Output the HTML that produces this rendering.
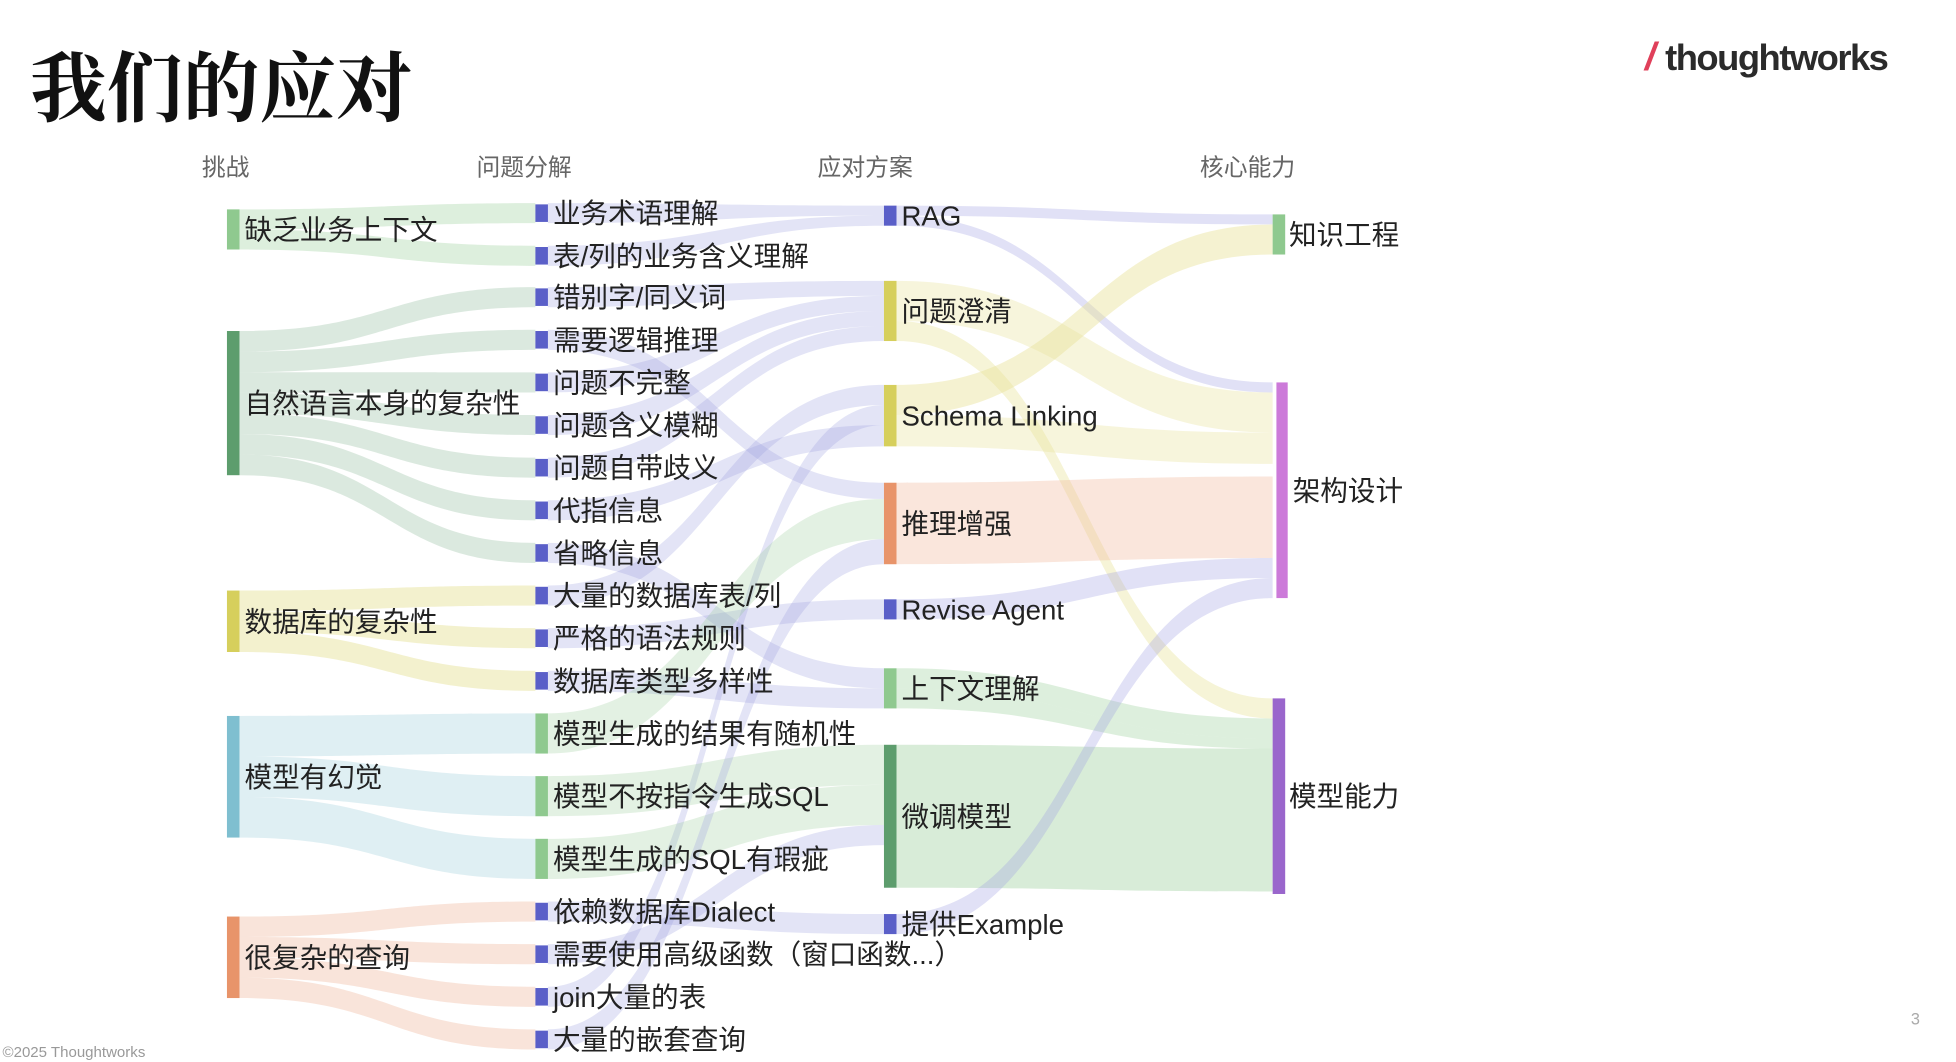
<!DOCTYPE html>
<html><head><meta charset="utf-8">
<style>
html,body{margin:0;padding:0;background:#fff;}
svg{display:block;}
text{font-family:"Liberation Sans","Noto Sans CJK SC",sans-serif;}
</style></head>
<body>
<svg id="s" width="1956" height="1062" viewBox="0 0 1560 847" xmlns="http://www.w3.org/2000/svg">
<rect width="1560" height="847" fill="#fff"/>
<g id="links"></g>
<g id="nodes"></g>
<text x="24" y="92" font-size="61" font-weight="bold" fill="#111" style="font-family:'Noto Serif CJK SC','Noto Sans CJK SC',serif">我们的应对</text>
<text x="1312" y="56" font-size="31" font-weight="bold" fill="#e0405a" font-style="italic">/</text>
<text x="1328" y="56" font-size="29" font-weight="bold" fill="#2b2b2b" letter-spacing="-1.2">thoughtworks</text>
<g font-size="19" fill="#666">
<text x="161" y="140">挑战</text><text x="380" y="140">问题分解</text>
<text x="652" y="140">应对方案</text><text x="957" y="140">核心能力</text>
</g>
<text x="2" y="843" font-size="12" fill="#999">©2025 Thoughtworks</text>
<text x="1524" y="817" font-size="13" fill="#aaa">3</text>
</svg>
<script>
var NS="http://www.w3.org/2000/svg";
var L=document.getElementById('links'),N=document.getElementById('nodes');
function band(x0,a0,b0,x1,a1,b1,c,o){var m=(x0+x1)/2;var p=document.createElementNS(NS,'path');
p.setAttribute('d','M'+x0+','+a0+' C'+m+','+a0+' '+m+','+a1+' '+x1+','+a1+' L'+x1+','+b1+' C'+m+','+b1+' '+m+','+b0+' '+x0+','+b0+' Z');
p.setAttribute('fill',c);p.setAttribute('fill-opacity',o||0.3);L.appendChild(p);}
function rect(x,y,w,h,c){var r=document.createElementNS(NS,'rect');r.setAttribute('x',x);r.setAttribute('y',y);r.setAttribute('width',w);r.setAttribute('height',h);r.setAttribute('fill',c);N.appendChild(r);}
function txt(x,y,t,s){var e=document.createElementNS(NS,'text');e.setAttribute('x',x);e.setAttribute('y',y);e.setAttribute('font-size',s||22);e.setAttribute('fill','#222');e.textContent=t;N.appendChild(e);}
var B='#5a5fc8',LV='#9a9de0';
var c1=[["缺乏业务上下文",167,199,'#8fc98f'],["自然语言本身的复杂性",264,379,'#5d9d6d'],["数据库的复杂性",471,520,'#d6cf5c'],["模型有幻觉",571,668,'#7fbfd0'],["很复杂的查询",731,796,'#e8946a']];
var c2=[["业务术语理解",170],["表/列的业务含义理解",204],["错别字/同义词",237],["需要逻辑推理",271],["问题不完整",305],["问题含义模糊",339],["问题自带歧义",373],["代指信息",407],["省略信息",441],["大量的数据库表/列",475],["严格的语法规则",509],["数据库类型多样性",543]];
var c2b=[["模型生成的结果有随机性",569,601],["模型不按指令生成SQL",619,651],["模型生成的SQL有瑕疵",669,701]];
var c2c=[["依赖数据库Dialect",727],["需要使用高级函数（窗口函数...）",761],["join大量的表",795],["大量的嵌套查询",829]];
band(191,167,183,427,162,178,'#8fc98f');band(191,183,199,427,196,212,'#8fc98f');
for(var i=0;i<7;i++){var a=264+i*115/7;band(191,a,a+115/7,427,c2[i+2][1]-8,c2[i+2][1]+8,'#5d9d6d',0.22);}
for(var i=0;i<3;i++){var a=471+i*49/3;band(191,a,a+49/3,427,c2[i+9][1]-8,c2[i+9][1]+8,'#d6cf5c',0.3);}
for(var i=0;i<3;i++){var a=571+i*97/3;band(191,a,a+97/3,427,c2b[i][1],c2b[i][2],'#7fbfd0',0.25);}
for(var i=0;i<4;i++){var a=731+i*65/4;band(191,a,a+65/4,427,c2c[i][1]-8,c2c[i][1]+8,'#e8946a',0.25);}
var c3=[["RAG",164,180,B],["问题澄清",224,272,'#d6cf5c'],["Schema Linking",307,356,'#d6cf5c'],["推理增强",385,450,'#e8946a'],["Revise Agent",478,494,B],["上下文理解",533,565,'#8fc98f'],["微调模型",594,708,'#5d9d6d'],["提供Example",729,745,B]];
function l23(y,t0,t1,c,o){band(437,y-8,y+8,705,t0,t1,c||LV,o||0.28);}
l23(170,164,172);l23(204,172,180);
l23(237,224,236);l23(305,236,248);l23(339,248,260);l23(373,260,272);
l23(271,385,398);l23(475,307,323);l23(795,323,339);l23(407,339,356);
l23(441,533,549);l23(509,478,494);l23(543,549,565);
band(437,569,601,705,398,430,'#8fc98f',0.25);band(437,619,651,705,594,626,'#8fc98f',0.25);band(437,669,701,705,626,658,'#8fc98f',0.25);
l23(727,729,745);l23(761,658,674);l23(829,430,450);
function l34(a0,b0,a1,b1,c,o){band(715,a0,b0,1015,a1,b1,c,o||0.3);}
l34(164,172,171,179,LV);l34(172,180,305,313,LV);
l34(307,331,179,203,'#e9e39a',0.45);
l34(224,256,313,345,'#e9e39a',0.35);l34(256,272,557,573,'#e9e39a',0.4);
l34(331,356,345,370,'#e9e39a',0.35);
l34(385,450,380,445,'#f2b89a',0.35);
l34(478,494,445,461,LV);l34(533,549,573,589,'#8fc98f',0.3);l34(549,565,589,597,'#8fc98f',0.3);
l34(594,708,597,711,'#8fc98f',0.35);l34(729,745,461,477,LV);
c1.forEach(function(n){rect(181,n[1],10,n[2]-n[1],n[3]);txt(195,(n[1]+n[2])/2+8,n[0]);});
c2.concat(c2c).forEach(function(n){rect(427,n[1]-7,10,14,B);txt(441,n[1]+8,n[0]);});
c2b.forEach(function(n){rect(427,n[1],10,n[2]-n[1],'#8fc98f');txt(441,(n[1]+n[2])/2+8,n[0]);});
c3.forEach(function(n){rect(705,n[1],10,n[2]-n[1],n[3]);txt(719,(n[1]+n[2])/2+8,n[0]);});
rect(1015,171,10,32,'#8fc98f');txt(1028,195,"知识工程");
rect(1018,305,9,172,'#cc7ad9');txt(1031,399,"架构设计");
rect(1015,557,10,156,'#9a66cc');txt(1028,643,"模型能力");
</script>
</body></html>
